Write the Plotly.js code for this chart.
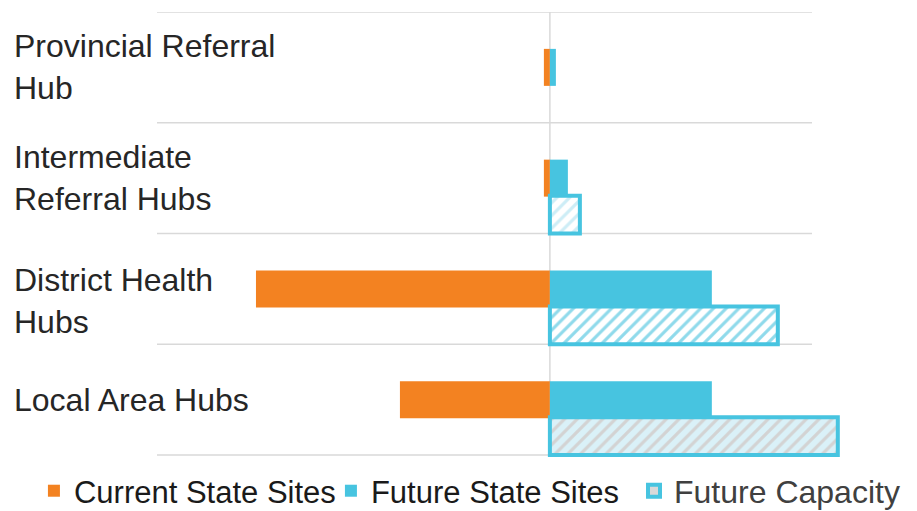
<!DOCTYPE html>
<html>
<head>
<meta charset="utf-8">
<script src="https://cdn.plot.ly/plotly-3.0.1.min.js"></script>
<style>html,body{margin:0;padding:0;background:#fff;}#chart{width:917px;height:511px;}</style>
</head>
<body>
<div id="chart"></div>
<script>
// ---- data ----
var categories = ["Provincial Referral Hub", "Intermediate Referral Hubs", "District Health Hubs", "Local Area Hubs"];
var categoryLabels = ["Provincial Referral<br>Hub", "Intermediate<br>Referral Hubs", "District Health<br>Hubs", "Local Area Hubs"];
var currentSites = [1, 1, 49, 25];
var futureSites = [1, 3, 27, 27];
var futureCapacity = [null, 5, 38, 48];
var seriesNames = ["Current State Sites", "Future State Sites", "Future Capacity"];

// ---- styling ----
var ORANGE = "#F38221", BLUE = "#47C4E0", GRID = "#D9D9D9";
var FONT = "Liberation Sans, Arial, sans-serif";
var capBg = ["#D9D9D9", "#FFFFFF", "#FFFFFF", "#DAF1F8"];
var capFg = ["#D9D9D9", "#CDEDF6", "#8FDAEB", "#D3D3D3"];
var capShape = ["", "/", "/", "/"];
var labelShift = [0, 0, -12, 0];

var xmin = -65.5, xmax = 51.7, gridEnd = 43.7;

var traces = [
  {
    type: "bar", orientation: "h", name: seriesNames[0],
    y: categories, x: currentSites.map(function (v) { return -v; }),
    width: 0.334, marker: { color: ORANGE, line: { width: 0 } },
    hoverinfo: "skip", legend: "legend"
  },
  {
    type: "bar", orientation: "h", name: seriesNames[1],
    y: categories, x: futureSites,
    width: 0.334, marker: { color: BLUE, line: { width: 0 } },
    hoverinfo: "skip", legend: "legend"
  }
];

// one capacity bar per category so each can carry its own hatch colours
categories.forEach(function (c, k) {
  var marker = { color: capBg[k], line: { color: BLUE, width: 4 } };
  if (capShape[k]) {
    marker.pattern = { shape: capShape[k], bgcolor: capBg[k], fgcolor: capFg[k], size: 9, solidity: 0.35, fillmode: "replace" };
  }
  traces.push({
    type: "bar", orientation: "h",
    name: seriesNames[2],
    legend: "legend2", legendgroup: "cap", showlegend: k === 0,
    y: [c], x: [futureCapacity[k]],
    width: 0.34, offset: 0.16,
    marker: marker,
    hoverinfo: "skip"
  });
});

var shapes = [];
for (var i = 0; i <= categories.length; i++) {
  shapes.push({
    type: "line", layer: "below", xref: "x", yref: "y",
    x0: xmin, x1: gridEnd, y0: i - 0.5, y1: i - 0.5,
    line: { color: GRID, width: 1.5 }
  });
}
shapes.push({
  type: "line", layer: "below", xref: "x", yref: "y",
  x0: 0, x1: 0, y0: -0.5, y1: categories.length - 0.5,
  line: { color: GRID, width: 1.5 }
});

var annotations = categories.map(function (c, k) {
  return {
    xref: "paper", yref: "y", x: 0, y: c, xshift: -145, yshift: labelShift[k],
    xanchor: "left", yanchor: "middle", align: "left",
    text: categoryLabels[k], showarrow: false,
    font: { family: FONT, size: 32, color: "#262626" }
  };
});

var layout = {
  width: 917, height: 511,
  margin: { l: 157, r: 57, t: 12, b: 51, autoexpand: false },
  paper_bgcolor: "#FFFFFF", plot_bgcolor: "rgba(0,0,0,0)",
  barmode: "overlay",
  showlegend: true,
  font: { family: FONT, color: "#262626" },
  xaxis: {
    range: [xmin, xmax], showgrid: false, zeroline: false,
    showticklabels: false, ticks: "", showline: false, fixedrange: true
  },
  yaxis: {
    type: "category", range: [3.545, -0.5], showgrid: false, zeroline: false,
    showticklabels: false, ticks: "", showline: false, fixedrange: true
  },
  legend: {
    orientation: "h", xref: "container", yref: "container",
    x: 0.037, y: 0.039, xanchor: "left", yanchor: "middle",
    entrywidth: 252, entrywidthmode: "pixels",
    font: { family: FONT, size: 31, color: "#1A1A1A" },
    bgcolor: "rgba(0,0,0,0)", traceorder: "normal"
  },
  legend2: {
    orientation: "h", xref: "container", yref: "container",
    x: 0.6914, y: 0.039, xanchor: "left", yanchor: "middle",
    font: { family: FONT, size: 32, color: "#404040" },
    bgcolor: "rgba(0,0,0,0)"
  },
  shapes: shapes,
  annotations: annotations
};

Plotly.newPlot("chart", traces, layout, { displayModeBar: false, staticPlot: true });
</script>
</body>
</html>
